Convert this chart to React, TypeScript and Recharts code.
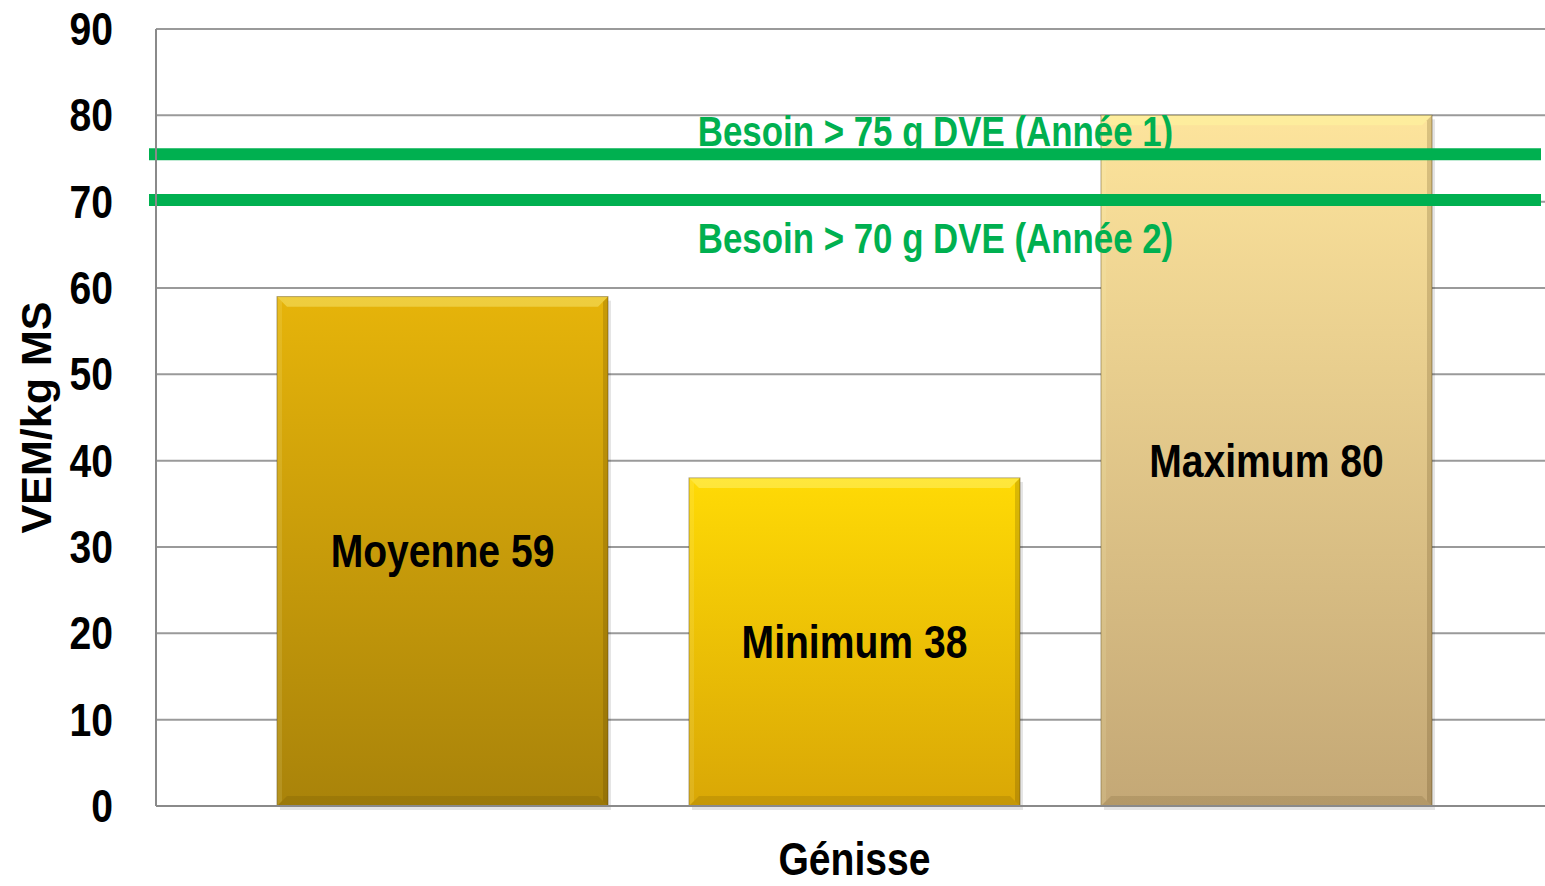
import React from 'react';
import { BarChart, Bar, XAxis, YAxis, CartesianGrid, ReferenceLine, LabelList } from 'recharts';

const categories = ['Génisse'];
const moyenne = [59];
const minimum = [38];
const maximum = [80];
const yTicks = [0, 10, 20, 30, 40, 50, 60, 70, 80, 90];
const besoinValues = [75.5, 70.2];
const besoinLabels = ['Besoin > 75 g DVE (Année 1)', 'Besoin > 70 g DVE (Année 2)'];
const seriesNames = ['Moyenne', 'Minimum', 'Maximum'];

const data = categories.map((c, i) => ({
  name: c,
  moyenne: moyenne[i],
  minimum: minimum[i],
  maximum: maximum[i],
}));

const FONT = '"Liberation Sans", Arial, sans-serif';

const Narrow = ({ x, y, anchor, baseline, size, fill, sq = 0.85, children }: any) => (
  <text
    transform={`translate(${x},${y}) scale(${sq},1)`}
    x={0}
    y={0}
    textAnchor={anchor}
    dominantBaseline={baseline}
    fontFamily={FONT}
    fontWeight="bold"
    fontSize={size}
    fill={fill}
  >
    {children}
  </text>
);

const BarShape = (props: any) => {
  const { x, y, width, height, gid } = props;
  if (!height || height <= 0) return null;
  const b = 10;
  return (
    <g>
      <rect x={x + 3} y={y + 4} width={width} height={height} fill="rgba(0,0,0,0.10)" />
      <rect x={x} y={y} width={width} height={height} fill={`url(#${gid})`} stroke="rgba(90,70,20,0.5)" strokeWidth={1} />
      <polygon points={`${x},${y} ${x + width},${y} ${x + width - b},${y + b} ${x + b},${y + b}`} fill="rgba(255,255,160,0.35)" />
      <polygon points={`${x},${y + height} ${x + width},${y + height} ${x + width - b},${y + height - b} ${x + b},${y + height - b}`} fill="rgba(60,40,0,0.12)" />
      <polygon points={`${x + width},${y} ${x + width},${y + height} ${x + width - 5},${y + height - 5} ${x + width - 5},${y + 5}`} fill="rgba(60,40,0,0.18)" />
      <polygon points={`${x},${y} ${x},${y + height} ${x + 5},${y + height - 5} ${x + 5},${y + 5}`} fill="rgba(255,255,200,0.12)" />
    </g>
  );
};

const makeLabel = (name: string) => (props: any) => {
  const { x, y, width, height, value } = props;
  return (
    <Narrow x={x + width / 2} y={y + height / 2} anchor="middle" baseline="central" size={46} fill="#000">
      {`${name} ${value}`}
    </Narrow>
  );
};

const RefLineShape = (props: any) => {
  const { x1, y1, x2, y2 } = props;
  return <line x1={x1 - 7} y1={y1} x2={x2 - 4} y2={y2} stroke="#00b050" strokeWidth={12} />;
};

const makeRefLabel = (text: string, dy: number) => (props: any) => {
  const { viewBox } = props;
  return (
    <Narrow x={viewBox.x + viewBox.width / 2 + 85} y={viewBox.y + dy} anchor="middle" baseline="central" size={42} sq={0.83} fill="#00b050">
      {text}
    </Narrow>
  );
};

const YTick = (props: any) => {
  const { x, y, payload } = props;
  return (
    <Narrow x={x} y={y} anchor="end" baseline="central" size={46} fill="#000">
      {payload.value}
    </Narrow>
  );
};

const XTick = (props: any) => {
  const { x, y, payload } = props;
  return (
    <Narrow x={x} y={y} anchor="middle" baseline="auto" size={46} fill="#000">
      {payload.value}
    </Narrow>
  );
};

const YLabel = (props: any) => {
  const { viewBox } = props;
  const cx = viewBox.x + 36;
  const cy = viewBox.y + viewBox.height / 2;
  return (
    <text
      x={cx}
      y={cy}
      transform={`rotate(-90, ${cx}, ${cy})`}
      textAnchor="middle"
      dominantBaseline="central"
      fontFamily={FONT}
      fontWeight="bold"
      fontSize={43}
      fill="#000"
    >
      VEM/kg MS
    </text>
  );
};

export default function App() {
  return (
    <div style={{ position: 'absolute', left: 0, top: 0, width: 1545, height: 886, background: '#fff' }}>
      <BarChart
        width={1545}
        height={886}
        data={data}
        margin={{ top: 29, right: 0, left: 0, bottom: 0 }}
        barSize={331}
        barGap={81}
      >
        <defs>
          <linearGradient id="gMoy" x1="0" y1="0" x2="0" y2="1">
            <stop offset="0%" stopColor="#e6b40a" />
            <stop offset="100%" stopColor="#a9830a" />
          </linearGradient>
          <linearGradient id="gMin" x1="0" y1="0" x2="0" y2="1">
            <stop offset="0%" stopColor="#ffda05" />
            <stop offset="100%" stopColor="#d9a706" />
          </linearGradient>
          <linearGradient id="gMax" x1="0" y1="0" x2="0" y2="1">
            <stop offset="0%" stopColor="#fde49c" />
            <stop offset="100%" stopColor="#c4a876" />
          </linearGradient>
        </defs>
        <CartesianGrid vertical={false} stroke="#9a9a9a" strokeWidth={2} />
        <XAxis
          dataKey="name"
          height={80}
          padding={{ left: 8, right: 0 }}
          axisLine={{ stroke: '#8a8a8a', strokeWidth: 2 }}
          tickLine={false}
          tickSize={0}
          tickMargin={69}
          tick={<XTick />}
        />
        <YAxis
          width={156}
          domain={[0, 90]}
          ticks={yTicks}
          interval={0}
          axisLine={{ stroke: '#8a8a8a', strokeWidth: 2 }}
          tickLine={false}
          tickSize={0}
          tickMargin={43}
          tick={<YTick />}
          label={<YLabel />}
        />
        <Bar dataKey="moyenne" name={seriesNames[0]} isAnimationActive={false} shape={(p: any) => <BarShape {...p} gid="gMoy" />}>
          <LabelList dataKey="moyenne" content={makeLabel(seriesNames[0])} />
        </Bar>
        <Bar dataKey="minimum" name={seriesNames[1]} isAnimationActive={false} shape={(p: any) => <BarShape {...p} gid="gMin" />}>
          <LabelList dataKey="minimum" content={makeLabel(seriesNames[1])} />
        </Bar>
        <Bar dataKey="maximum" name={seriesNames[2]} isAnimationActive={false} shape={(p: any) => <BarShape {...p} gid="gMax" />}>
          <LabelList dataKey="maximum" content={makeLabel(seriesNames[2])} />
        </Bar>
        {besoinValues.map((v, i) => (
          <ReferenceLine
            key={v}
            y={v}
            shape={RefLineShape}
            label={makeRefLabel(besoinLabels[i], i === 0 ? -23 : 38)}
          />
        ))}
      </BarChart>
    </div>
  );
}
